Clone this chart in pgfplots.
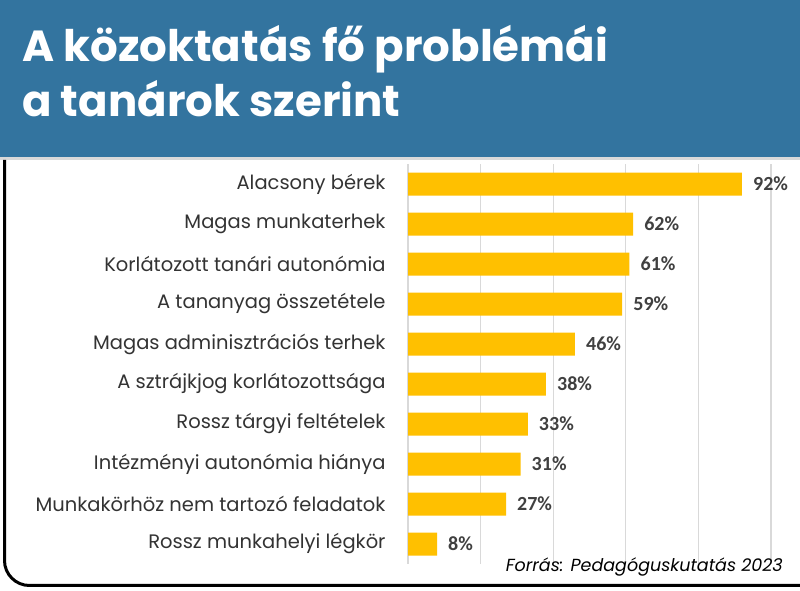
\documentclass[border=0pt]{standalone}
\usepackage{fontspec}
\usepackage{pgfplots}
\pgfplotsset{compat=1.18}
\setmainfont{Poppins}
\newfontfamily\valfont{Carlito}
\definecolor{hdr}{HTML}{33749F}
\definecolor{barc}{HTML}{FFC000}
\definecolor{lab}{HTML}{333333}
\definecolor{val}{HTML}{404040}
\definecolor{grd}{HTML}{D9D9D9}
\begin{document}
\begin{tikzpicture}
\useasboundingbox (0pt,0pt) rectangle (800pt,591pt);
\fill[white] (0pt,0pt) rectangle (800pt,591pt);
\fill[hdr] (0pt,434pt) rectangle (800pt,591pt);
\fill[gray!30] (0pt,431pt) rectangle (800pt,434pt);
\node[anchor=base west, text=white, font=\fontsize{43.5}{44}\selectfont\bfseries, inner sep=0pt] at (22pt,529pt) {A közoktatás fő problémái};
\node[anchor=base west, text=white, font=\fontsize{43.5}{44}\selectfont\bfseries, inner sep=0pt] at (22pt,474pt) {a tanárok szerint};
\draw[black, line width=3pt, rounded corners=25pt] (4.5pt,431pt) -- (4.5pt,5.5pt) -- (800pt,5.5pt);
\begin{axis}[
  at={(408pt,27pt)}, anchor=south west, scale only axis,
  width=363pt, height=400pt,
  xmin=0, xmax=100, ymin=-0.5, ymax=9.5, y dir=reverse,
  xbar, bar width=23pt,
  axis line style={draw=none}, tick style={draw=none},
  xmajorgrids, xtick={0,20,...,100}, xticklabels={},
  major grid style={grd, line width=1.2pt},
  ytick={0,...,9},
  yticklabels={Alacsony bérek, Magas munkaterhek, Korlátozott tanári autonómia, A tananyag összetétele, Magas adminisztrációs terhek, A sztrájkjog korlátozottsága, Rossz tárgyi feltételek, Intézményi autonómia hiánya, Munkakörhöz nem tartozó feladatok, Rossz munkahelyi légkör},
  yticklabel style={font=\fontsize{19.5}{20}\selectfont, text=lab, inner sep=0pt, xshift=-18pt},
  /pgf/number format/assume math mode=true,
  nodes near coords={\pgfmathprintnumber{\pgfplotspointmeta}\%},
  point meta=x,
  nodes near coords style={font=\valfont\bfseries\fontsize{20}{20}\selectfont, text=val, anchor=west, inner sep=0pt, xshift=11pt},
  clip=false,
]
\addplot[fill=barc, draw=none] coordinates {(92,0) (62,1) (61,2) (59,3) (46,4) (38,5) (33,6) (31,7) (27,8) (8,9)};
\end{axis}
\node[anchor=base east, font=\fontsize{17.5}{18}\selectfont\itshape, inner sep=0pt] at (783pt,19pt) {Forrás: Pedagóguskutatás 2023};
\end{tikzpicture}
\end{document}
